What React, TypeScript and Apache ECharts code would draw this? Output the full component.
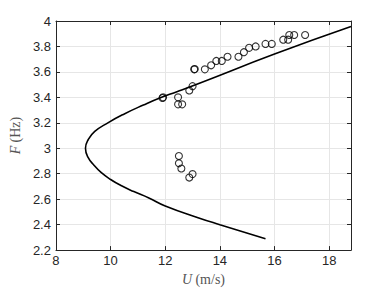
import React, { useEffect, useRef } from "react";
import * as echarts from "echarts";

// Model curve (F in Hz, U in m/s), ordered along the curve (lower branch -> upper branch)
const curveF = [2.29, 2.40, 2.455, 2.547, 2.61, 2.66, 2.705, 2.755, 2.81, 2.865, 2.93, 3.0, 3.067, 3.132, 3.2, 3.27, 3.34, 3.395, 3.446, 3.515, 3.74, 3.956];
const curveU = [15.67, 14.0, 13.2, 12.0, 11.4, 10.85, 10.4, 10.0, 9.65, 9.4, 9.17, 9.08, 9.18, 9.42, 9.9, 10.5, 11.2, 11.8, 12.45, 13.3, 16.0, 18.8];

// Measured points
const measU = [11.9, 11.92, 12.47, 12.47, 12.62, 12.88, 13.0, 13.06, 13.08, 13.45, 13.68, 13.87, 14.07, 14.28, 14.68, 14.88, 15.07, 15.31, 15.67, 15.9, 16.32, 16.5, 16.54, 16.72, 17.12, 12.5, 12.5, 12.59, 12.88, 13.0];
const measF = [3.395, 3.40, 3.40, 3.345, 3.345, 3.454, 3.488, 3.62, 3.622, 3.62, 3.652, 3.686, 3.686, 3.719, 3.719, 3.755, 3.789, 3.80, 3.82, 3.82, 3.853, 3.853, 3.89, 3.89, 3.89, 2.939, 2.882, 2.841, 2.77, 2.797];

const xTicks = { min: 8, max: 18.8, interval: 2 };
const yTicks = { min: 2.2, max: 4, interval: 0.2 };

export default function App() {
  const ref = useRef<HTMLDivElement>(null);
  useEffect(() => {
    if (!ref.current) return;
    const chart = echarts.init(ref.current, undefined, { renderer: "svg" });
    const axisCol = "#262626";
    const tickFont = { fontFamily: "Liberation Sans", fontSize: 13, color: axisCol };
    const common = {
      axisLine: { show: true, onZero: false, lineStyle: { color: axisCol, width: 1 } },
      axisTick: { show: true, inside: true, length: 4, lineStyle: { color: axisCol } },
    };
    const nameRich = {
      i: { fontFamily: "Liberation Serif", fontStyle: "italic", fontSize: 14, color: "#555" },
      r: { fontFamily: "Liberation Serif", fontSize: 14, color: "#555" },
    };
    chart.setOption({
      animation: false,
      backgroundColor: "#ffffff",
      grid: { left: 50, right: 37, top: 21, bottom: 37 },
      xAxis: [
        {
          type: "value",
          ...xTicks,
          ...common,
          position: "bottom",
          axisLabel: { ...tickFont, margin: 4, showMaxLabel: false },
          splitLine: { show: true, lineStyle: { color: "#e6e6e6", width: 1 } },
          name: "{i|U} {r|(m/s)}",
          nameLocation: "middle",
          nameGap: 20,
          nameTextStyle: { rich: nameRich },
        },
        {
          type: "value",
          ...xTicks,
          ...common,
          position: "top",
          axisLabel: { show: false },
          splitLine: { show: false },
        },
      ],
      yAxis: [
        {
          type: "value",
          ...yTicks,
          ...common,
          position: "left",
          axisLabel: { ...tickFont, margin: 5 },
          splitLine: { show: true, lineStyle: { color: "#e6e6e6", width: 1 } },
          name: "{i|F} {r|(Hz)}",
          nameLocation: "middle",
          nameGap: 31,
          nameRotate: 90,
          nameTextStyle: { rich: nameRich },
        },
        {
          type: "value",
          ...yTicks,
          ...common,
          position: "right",
          axisLabel: { show: false },
          splitLine: { show: false },
        },
      ],
      series: [
        {
          type: "line",
          data: curveU.map((u, i) => [u, curveF[i]]),
          smooth: 0.5,
          showSymbol: false,
          lineStyle: { color: "#000", width: 1.6 },
          z: 3,
        },
        {
          type: "scatter",
          data: measU.map((u, i) => [u, measF[i]]),
          symbol: "circle",
          symbolSize: 7,
          itemStyle: { color: "rgba(0,0,0,0)", borderColor: "#000", borderWidth: 1.1 },
          z: 4,
        },
      ],
    });
    return () => chart.dispose();
  }, []);
  return (
    <div
      ref={ref}
      style={{ position: "absolute", left: 0, top: 0, width: 388, height: 291 }}
    />
  );
}
